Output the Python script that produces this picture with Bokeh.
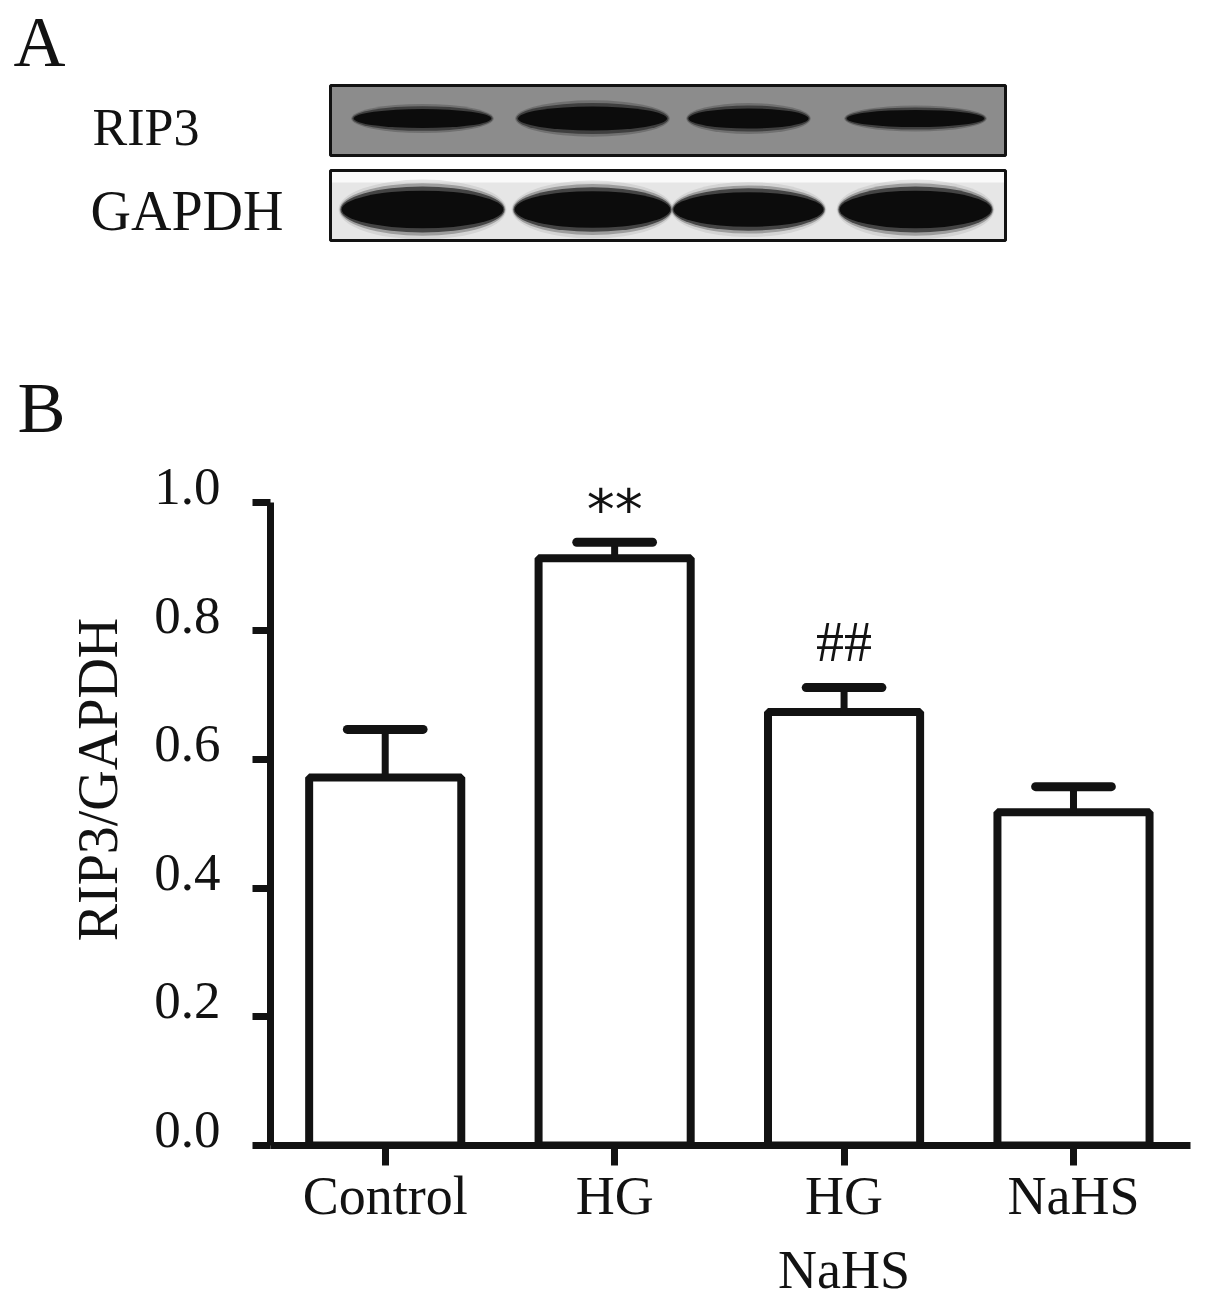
from bokeh.plotting import figure
from bokeh.models import Range1d, FixedTicker, ColumnDataSource, LinearAxis
from bokeh.layouts import column, row
from bokeh.embed import file_html
from bokeh.resources import INLINE
from bokeh.core.properties import value

# ---------------- data ----------------
groups = ["Control", "HG", "HG\nNaHS", "NaHS"]
means = [0.572, 0.913, 0.674, 0.518]
sems = [0.075, 0.025, 0.038, 0.040]
signif = ["", "**", "##", ""]
y_ticks = [0.0, 0.2, 0.4, 0.6, 0.8, 1.0]
y_tick_labels = ["0.0", "0.2", "0.4", "0.6", "0.8", "1.0"]
y_title = "RIP3/GAPDH"
lanes = ["Control", "HG", "HG+NaHS", "NaHS"]
rip3_band = [0.80, 1.00, 0.85, 0.72]
gapdh_band = [1.00, 0.97, 0.92, 1.00]

SERIF = "Liberation Serif"
INK = "#121212"

# layout constants (pixels)
FIG_W = 1205
TOP_H = 452
BOT_H = 1302 - TOP_H
LEFT, RIGHT = 270, 15
FRAME_BOTTOM = 155
frame_w = FIG_W - LEFT - RIGHT
frame_h = BOT_H - FRAME_BOTTOM
px_y = 645.0
Y_MAX = frame_h / px_y
X_MIN, X_MAX = -0.5, 3.51

# ---------------- panel A (blot) + panel letters ----------------
top = figure(width=FIG_W, height=TOP_H, x_range=Range1d(0, FIG_W), y_range=Range1d(TOP_H, 0),
             output_backend="svg", toolbar_location=None, x_axis_type=None, y_axis_type=None,
             min_border=0)
top.outline_line_color = None
top.xgrid.visible = False
top.ygrid.visible = False

top.text(x=[13, 17], y=[41, 407], text=["A", "B"], text_font=value(SERIF),
         text_font_size="72px", text_color=INK, text_baseline="middle")
top.text(x=[92], y=[127], text=["RIP3"], text_font=value(SERIF),
         text_font_size="52px", text_color=INK, text_baseline="middle")
top.text(x=[90], y=[210], text=["GAPDH"], text_font=value(SERIF),
         text_font_size="56px", text_color=INK, text_baseline="middle")

# blot backgrounds
top.quad(left=[330], right=[1005], top=[85], bottom=[155], fill_color="#8c8c8c", line_color=None)
top.quad(left=[330], right=[1005], top=[170], bottom=[240], fill_color="#e6e6e6", line_color=None)
top.quad(left=[330], right=[1005], top=[170], bottom=[182], fill_color="#fafafa", line_color=None)

lane_x = [422, 592, 748, 915]
rip3_w = [142, 154, 124, 142]
gapdh_w = [164, 158, 152, 154]

# GAPDH bands (soft edges)
for i in range(len(lanes)):
    h = 46 * gapdh_band[i]
    for sc, a, col in [(1.3, 0.2, "#8a8a8a"), (1.14, 0.4, "#4a4a4a"),
                       (1.0, 0.7, "#1e1e1e"), (0.82, 1.0, "#0c0c0c")]:
        top.ellipse(x=[lane_x[i]], y=[209], width=[gapdh_w[i] * (0.92 + 0.08 * sc)],
                    height=[h * sc], fill_color=col, fill_alpha=a, line_color=None)

# RIP3 bands
for i in range(len(lanes)):
    h = 28 * rip3_band[i]
    for sc, a, col in [(1.3, 0.3, "#333333"), (1.1, 0.6, "#1e1e1e"), (0.85, 1.0, "#0c0c0c")]:
        top.ellipse(x=[lane_x[i]], y=[118], width=[rip3_w[i] * (0.9 + 0.08 * sc)],
                    height=[h * sc], fill_color=col, fill_alpha=a, line_color=None)

# blot frames
top.quad(left=[330, 330], right=[1005, 1005], top=[85, 170], bottom=[155, 240],
         fill_color=None, line_color=INK, line_width=3)

# ---------------- panel B (bar chart) ----------------
p = figure(width=FIG_W, height=BOT_H, x_range=Range1d(X_MIN, X_MAX), y_range=Range1d(0, Y_MAX),
           output_backend="svg", toolbar_location=None,
           min_border_left=LEFT, min_border_right=RIGHT,
           min_border_top=0, min_border_bottom=FRAME_BOTTOM)
p.outline_line_color = None
p.xgrid.visible = False
p.ygrid.visible = False

xs = list(range(len(groups)))
err = [m + s for m, s in zip(means, sems)]
cap_half = 0.165
src = ColumnDataSource(dict(
    x=xs, top=means, err=err,
    cap_l=[x - cap_half for x in xs], cap_r=[x + cap_half for x in xs],
))

p.vbar(x="x", top="top", bottom=0, width=0.663, source=src,
       fill_color="white", line_color=INK, line_width=8)
p.segment(x0="x", y0="top", x1="x", y1="err", source=src, line_color=INK, line_width=7)
p.segment(x0="cap_l", y0="err", x1="cap_r", y1="err", source=src, line_color=INK,
          line_width=9, line_cap="round")

# significance marks above error bars
star = [(x, e, s) for x, e, s in zip(xs, err, signif) if s == "**"]
hashm = [(x, e, s) for x, e, s in zip(xs, err, signif) if s == "##"]
p.text(x=[a[0] for a in star], y=[a[1] + 33 / px_y for a in star], text=[a[2] for a in star],
       text_font=value("DejaVu Sans"), text_font_size="56px", text_align="center",
       text_baseline="middle", text_color=INK)
p.text(x=[a[0] for a in hashm], y=[a[1] + 46 / px_y for a in hashm], text=[a[2] for a in hashm],
       text_font=value(SERIF), text_font_size="56px", text_align="center",
       text_baseline="middle", text_color=INK)

# x axis
xa = p.xaxis[0]
xa.ticker = FixedTicker(ticks=xs)
xa.major_label_overrides = {i: g for i, g in zip(xs, groups)}
xa.minor_tick_line_color = None
xa.major_tick_in = 0
xa.major_tick_out = 20
xa.major_tick_line_width = 7
xa.major_tick_line_color = INK
xa.axis_line_width = 7
xa.axis_line_color = INK
xa.major_label_standoff = 0
xa.major_label_text_font = SERIF
xa.major_label_text_font_size = "54px"
xa.major_label_text_color = INK
xa.major_label_text_line_height = 1.24

# y axis: line + ticks (labels drawn by an outer axis so they sit on the tick)
ya = p.yaxis[0]
ya.ticker = FixedTicker(ticks=y_ticks)
ya.major_label_overrides = {t: "" for t in y_ticks}
ya.major_label_text_font_size = "0px"
ya.bounds = (0, 1.0)
ya.minor_tick_line_color = None
ya.major_tick_in = 0
ya.major_tick_out = 18
ya.major_tick_line_width = 7
ya.major_tick_line_color = INK
ya.axis_line_width = 7
ya.axis_line_color = INK
ya.major_label_standoff = 0

lab_shift = 16 / px_y
lab_ticks = [t + lab_shift for t in y_ticks]
ya2 = LinearAxis(ticker=FixedTicker(ticks=lab_ticks),
                 major_label_overrides={t: l for t, l in zip(lab_ticks, y_tick_labels)})
ya2.axis_line_color = None
ya2.major_tick_line_color = None
ya2.minor_tick_line_color = None
ya2.major_tick_in = 0
ya2.major_tick_out = 0
ya2.major_label_standoff = 32
ya2.major_label_text_font = SERIF
ya2.major_label_text_font_size = "53px"
ya2.major_label_text_color = INK
p.add_layout(ya2, "left")

# axis title, centred where the original places it
title_y = (1147 - 780) / px_y
ya3 = LinearAxis(ticker=FixedTicker(ticks=[title_y]),
                 major_label_overrides={title_y: y_title})
ya3.axis_line_color = None
ya3.major_tick_line_color = None
ya3.minor_tick_line_color = None
ya3.major_tick_in = 0
ya3.major_tick_out = 0
ya3.major_label_standoff = 22
ya3.major_label_orientation = "parallel"
ya3.major_label_text_font = SERIF
ya3.major_label_text_font_size = "56px"
ya3.major_label_text_color = INK
p.add_layout(ya3, "left")

layout = column(row(top), row(p), spacing=0)
open("out.html", "w").write(file_html(layout, INLINE))
